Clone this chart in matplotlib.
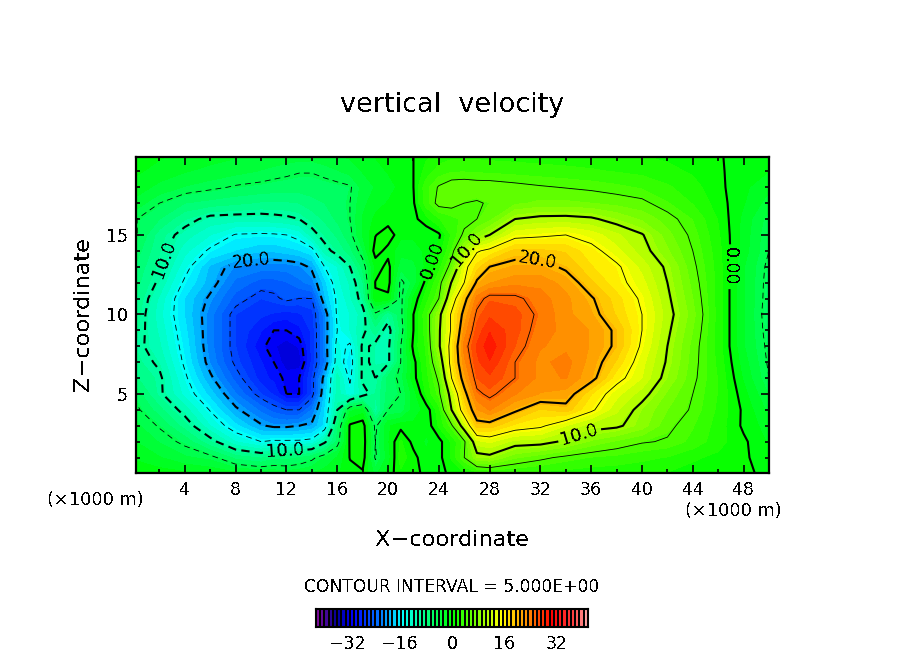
import numpy as np
import matplotlib
matplotlib.use('Agg')
import matplotlib.pyplot as plt
from matplotlib.colors import LinearSegmentedColormap, BoundaryNorm

plt.rcParams['font.family'] = 'DejaVu Sans'
plt.rcParams['text.antialiased'] = False

# grid nodes in km, finer where the field is busy
x_km = [0, 2, 4, 6, 8, 10, 11, 12, 13, 14, 15, 16, 17, 18, 19, 20, 21, 22, 23, 24, 25,
        26, 27, 28, 30, 32, 34, 36, 38, 40, 42, 44, 46, 48, 50]
z_km = list(range(21))

# vertical velocity, one row per z level
w_00 = [-.3, -.6, -1, -1.5, -2.2, -2.8, -3, -3.2, -3, -2.6, -2, -1.5, -.6, -.3, -3, -.8, 1, .6, -.5, -.4, .3,
        1, 2, 2.5, 2.5, 2.3, 2, 1.8, 1.6, 1.4, 1.2, .8, .6, .4, -.5]
w_01 = [-1.5, -2.5, -3.7, -4.3, -7, -8, -7, -7, -6.5, -5.5, -3.8, -2.5, .1, 1, -5.3, -2, 2, .5, -1, -.5, 1.5,
        5, 9, 9.3, 6.7, 5.5, 4.5, 3.8, 3.5, 3, 2.5, 1.5, 1, .3, -1]
w_02 = [-2.5, -4, -5.5, -9, -13, -15, -14.5, -14.5, -14.5, -14, -10.5, -6, .3, 1.2, -5, -1.5, 1.5, -.5, -1.5, -.5, 1.5,
        4.5, 12.5, 13.3, 11.2, 11, 9.5, 7.5, 6.2, 5.2, 4.8, 3.5, 1.8, .3, -1.5]
w_03 = [-3.5, -5.2, -8.5, -13, -16.5, -19.7, -20.5, -20.5, -20, -19.5, -16.5, -7, .3, 1, -5.5, -1.5, -.5, -1, -1, 1.5, 4.5,
        12, 19, 19, 16.5, 15.5, 13, 11, 10.5, 8.5, 5.5, 4, 2, -.3, -2]
w_04 = [-4.3, -7.3, -11, -15.2, -19.5, -22.5, -24, -25, -25, -22, -17, -10, -3, -2, -10, -5, -4.8, -2, -.8, 2, 10,
        17, 22, 23.5, 20.5, 18, 19, 15.5, 12, 9, 6.5, 4.7, 2.3, -.3, -3]
w_05 = [-5.3, -9.5, -13.5, -17.5, -22, -26, -27.5, -30, -30, -26, -18, -11, -14, -11, -9, -6, -5, -2, 1.5, 4.4, 11.5,
        19, 24.5, 25.5, 23.5, 22, 21.5, 17, 13.5, 11, 7.5, 5, 2.5, -.8, -4]
w_06 = [-7.5, -9.5, -14.5, -19.5, -24, -28, -29, -30.5, -30, -26, -19, -11, -15.5, -9.5, -10, -6, -4.5, -.5, 2, 5.5, 15,
        21.5, 26, 27, 25, 23, 23.5, 21, 16, 13, 9, 5.5, 2.5, -1.5, -5]
w_07 = [-8.5, -10.5, -15.5, -21, -25.5, -28.5, -30, -32, -32, -27, -22, -13.5, -16.5, -9.5, -10.5, -10.5, -5, -.5, 2.5, 7.5, 16.5,
        23, 27, 28.5, 25, 23, 24, 21.5, 18, 13.5, 9.7, 5.8, 2.2, -2, -5.3]
w_08 = [-9, -11.5, -16, -21.5, -26, -29.5, -31, -32, -31, -27, -21.5, -14, -15.5, -9.5, -10.5, -10.5, -5, .5, 2.8, 9.5, 16.5,
        24, 27.5, 29.5, 26, 23.5, 23, 22, 19.5, 14.5, 10, 6, 2, -2.5, -5.5]
w_09 = [-8.5, -12, -16.5, -21.5, -26, -28.5, -30, -30, -29, -27, -21.5, -15, -13, -10.5, -8.5, -11, -6, 0, 3.3, 9.5, 15.5,
        22.5, 26.5, 28.5, 26.5, 24, 23, 22, 19.5, 15, 10.5, 6.5, 2, -2.5, -5.8]
w_10 = [-8, -12.5, -17, -21.5, -26, -27, -27.5, -28, -27.5, -26.5, -21.5, -14.5, -13, -11, -5.5, -9, -5.5, 0, 3.5, 9, 15.5,
        21, 25.5, 27, 26.5, 24.5, 22.5, 21, 18, 15, 11, 7, 2, -2.5, -6]
w_11 = [-7.5, -12, -17, -20.5, -24, -26, -25.5, -24.5, -25, -25, -18.5, -14.5, -12, -9, -.2, -.5, -5.5, -1, 2, 5, 13,
        19, 24, 25.8, 25.5, 24, 22.5, 20.3, 17.5, 14.5, 10.5, 6.5, 2, -2.5, -5.8]
w_12 = [-7, -10.5, -15.5, -19, -22.5, -24, -24, -23.5, -22.5, -21.5, -17.5, -13.5, -11.5, -8, .1, .8, -5.5, -3.5, .7, 3.8, 10.2,
        15, 20.5, 22, 23, 23, 21.5, 18.5, 16, 13.5, 10, 6, 2, -2.5, -5.7]
w_13 = [-6.5, -9.5, -14, -18.5, -21, -21.5, -21.5, -21.5, -21, -19.5, -15, -13, -10, -6, -1, .6, -3.5, -3, -1, 2, 6,
        14, 17.5, 20, 21, 21, 19.5, 17, 15.5, 12.5, 9.5, 5.5, 2, -2.5, -5.5]
w_14 = [-5.5, -9, -12.5, -15.5, -17, -18, -18, -17.5, -17, -16, -11, -9, -7, -4, .8, -.6, -2, -2, -1, .5, 4,
        10, 14.7, 15.7, 18.7, 18.5, 18, 16, 13.5, 11, 8, 5, 1.8, -2, -5]
w_15 = [-4.5, -8.5, -11, -13, -15.2, -15.4, -15.3, -15, -14, -11, -9, -7.5, -5.5, -2.5, -.1, 1, -1, -1, -1, -.3, 2.8,
        5.5, 8, 10, 14, 14.5, 15, 13.8, 12, 10.2, 7, 4.5, 1.5, -1.8, -5]
w_16 = [-4.8, -6.5, -9, -10.8, -11, -11, -10.8, -10.5, -10, -8.7, -7.5, -6.2, -5, -2.5, -1, -.8, -.7, -.4, .8, 2.5, 3.5,
        4.2, 5, 6, 10, 10.7, 10.8, 10.4, 9, 7.5, 5.8, 3.8, 1.2, -1.7, -4.5]
w_17 = [-3, -5, -6.5, -7, -7.5, -8, -8, -8, -7.8, -7, -6.5, -5.7, -5, -3, -1.8, -1.2, -.9, -.2, 3.3, 5.7, 5.7,
        5, 4.8, 5.2, 6.2, 6.8, 6.8, 6.5, 6, 5.5, 4, 2.5, .7, -1.2, -3.2]
w_18 = [-1.8, -3, -4, -4.6, -5.2, -5.5, -5.7, -5.8, -5.8, -5.8, -5.7, -5.5, -5.2, -3.5, -2.5, -1.8, -1, 0, 3.5, 5.2, 6,
        6.2, 6, 6, 5.6, 5.2, 4.9, 4.6, 4.2, 3.7, 2.8, 1.8, .4, -1, -2.3]
w_19 = [-1, -1.8, -2.5, -3, -3.5, -4, -4.3, -4.6, -4.9, -4.9, -4.5, -4, -3.5, -2.5, -1.8, -1.2, -.6, 0, 1.8, 3.2, 3.8,
        3.8, 3.7, 3.6, 3.4, 3.2, 3, 2.8, 2.5, 2.2, 1.7, 1.1, .2, -.6, -1.3]
w_20 = [-.6, -1.1, -1.6, -2, -2.4, -2.8, -3, -3.2, -3.3, -3.3, -3, -2.7, -2.3, -1.7, -1.2, -.9, -.5, 0, 1, 1.8, 2.2,
        2.2, 2.2, 2.1, 2, 1.9, 1.8, 1.6, 1.5, 1.3, 1, .6, .1, -.4, -.8]

w = np.array([w_00, w_01, w_02, w_03, w_04, w_05, w_06, w_07, w_08, w_09, w_10,
              w_11, w_12, w_13, w_14, w_15, w_16, w_17, w_18, w_19, w_20])

x_ticks = [4, 8, 12, 16, 20, 24, 28, 32, 36, 40, 44, 48]
z_ticks = [5, 10, 15]
cbar_ticks = [-32, -16, 0, 16, 32]
thick_levels = [-30, -20, -10, 0, 10, 20]
thin_levels = [-25, -15, -5, 5, 15, 25]

ramp = [(0.0, '#7a0a9a'), (0.07, '#000096'), (0.13, '#0000ff'), (0.235, '#0080ff'), (0.31, '#00ffff'),
        (0.405, '#00ff80'), (0.5, '#00ff00'), (0.685, '#ffff00'), (0.79, '#ff8000'), (0.87, '#ff0000'),
        (0.95, '#ff4040'), (1.0, '#ffa0a0')]
cmap = LinearSegmentedColormap.from_list('rainbow_w', ramp, N=256)
fill_levels = np.linspace(-41.6, 41.6, 65)
norm = BoundaryNorm(fill_levels, cmap.N)

W, H = 904, 654
fig = plt.figure(figsize=(W / 100, H / 100), dpi=100)
ax = fig.add_axes([136 / W, (H - 473) / H, 633 / W, 316 / H])

ax.contourf(x_km, z_km, w, levels=fill_levels, cmap=cmap, norm=norm, antialiased=False)


def fmt(v):
    return '%.2f' % abs(v) if v == 0 else '%.1f' % abs(v)


def thick_line(level):
    style = (0, (4, 2.5)) if level < 0 else 'solid'
    return ax.contour(x_km, z_km, w, levels=[level], colors='k', linewidths=1.5, linestyles=[style])


for level in thick_levels:
    cs = thick_line(level)
    if level == -10:
        ax.clabel(cs, fmt=fmt, fontsize=12.5, inline_spacing=3, manual=[(1.9, 13.6), (11.9, 1.7)])
    elif level == -20:
        ax.clabel(cs, fmt=fmt, fontsize=12.5, inline_spacing=3, manual=[(9.2, 13.5)])
    elif level == 0:
        ax.clabel(cs, fmt=fmt, fontsize=12.5, inline_spacing=3, manual=[(23.6, 13.4), (46.8, 13)])
        # the label on the right hand line reads downward
        cs.labelTexts[-1].set_rotation(-90)
    elif level == 10:
        ax.clabel(cs, fmt=fmt, fontsize=12.5, inline_spacing=3, manual=[(26.4, 13.9), (35.1, 2.4)])
    elif level == 20:
        ax.clabel(cs, fmt=fmt, fontsize=12.5, inline_spacing=3, manual=[(31.8, 13.5)])

ax.contour(x_km, z_km, w, levels=thin_levels, colors='k', linewidths=0.6,
           linestyles=[(0, (7, 5)) if v < 0 else 'solid' for v in thin_levels])

ax.set_xlim(0.15, 50)
ax.set_ylim(0.03, 19.9)
ax.set_xticks(x_ticks)
ax.set_xticks(np.arange(2, 50, 2), minor=True)
ax.set_yticks(z_ticks)
ax.set_yticks(np.arange(1, 20), minor=True)
ax.tick_params(which='both', direction='in', top=True, right=True, color='k', width=1.2)
ax.tick_params(which='major', length=6, labelsize=12.5, pad=6)
ax.tick_params(which='minor', length=3)
for spine in ax.spines.values():
    spine.set_linewidth(1.6)

fig.text(452.5 / W, (H - 540) / H, 'X\u2212coordinate', fontsize=16.2, ha='center', va='center')
fig.text(95.5 / W, (H - 500) / H, '(\u00d71000 m)', fontsize=12.8, ha='center', va='center')
fig.text(733.5 / W, (H - 511) / H, '(\u00d71000 m)', fontsize=12.8, ha='center', va='center')
fig.text(83 / W, (H - 314) / H, 'Z\u2212coordinate', fontsize=16.2, rotation=90, ha='center', va='center')
fig.text(452.5 / W, (H - 105) / H, 'vertical  velocity', fontsize=19.5, ha='center', va='center')
fig.text(452 / W, (H - 587) / H, 'CONTOUR INTERVAL = 5.000E+00', fontsize=12.3, ha='center', va='center')

# colour key, black rule between the cells
cax = fig.add_axes([316 / W, (H - 627) / H, 272 / W, 18 / H])
cell_values = (fill_levels[:-1] + fill_levels[1:]) / 2
cax.pcolormesh(fill_levels, [0, 1], [cell_values], cmap=cmap, norm=norm, edgecolors='k', linewidth=1.3)
cax.set_xlim(fill_levels[0], fill_levels[-1])
cax.set_yticks([])
cax.set_xticks(cbar_ticks)
cax.set_xticklabels(['\u221232', '\u221216', '0', '16', '32'], fontsize=12.5)
cax.tick_params(axis='x', length=0, pad=6)
for spine in cax.spines.values():
    spine.set_linewidth(1.5)

fig.savefig('out.png', dpi=100)
